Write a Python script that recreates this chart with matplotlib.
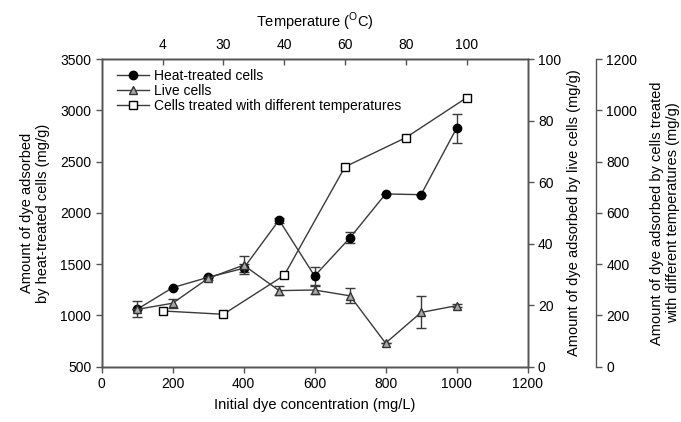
import numpy as np
import matplotlib.pyplot as plt

plt.rcParams['font.family'] = ['Liberation Sans', 'DejaVu Sans']
plt.rcParams['mathtext.fontset'] = 'custom'
plt.rcParams['mathtext.rm'] = 'Liberation Sans'

# data
conc = [100, 200, 300, 400, 500, 600, 700, 800, 900, 1000]
heat = [1059, 1270, 1371, 1459, 1930, 1384, 1758, 2185, 2178, 2826]
heat_err = [78, 0, 0, 40, 25, 85, 53, 0, 0, 141]
live = [18.6, 20.6, 28.7, 33.0, 24.7, 24.9, 23.0, 7.6, 17.6, 19.8]
live_err = [0, 1.4, 0.5, 3.0, 1.5, 1.4, 2.4, 0, 5.2, 0.5]
temp_labels = ['4', '30', '40', '60', '80', '100']
temp_ads = [217, 204, 356, 780, 894, 1050]

line_c = '#3a3a3a'
spine_c = '#555555'

fig = plt.figure(figsize=(6.81, 4.22), dpi=100)
ax = fig.add_axes([0.1493, 0.1315, 0.6253, 0.728])
ax_top = ax.twiny()
ax_live = ax.twinx()
ax_temp = ax_top.twinx()

temp_pos = np.arange(1, len(temp_labels) + 1)

# heat-treated cells
ax.errorbar(conc, heat, yerr=heat_err, fmt='none', ecolor=line_c, elinewidth=1, capsize=3.5)
h1, = ax.plot(conc, heat, '-o', color=line_c, lw=1, mfc='black', mec='black', ms=6)

# live cells
ax_live.errorbar(conc, live, yerr=live_err, fmt='none', ecolor=line_c, elinewidth=1, capsize=3.5)
h2, = ax_live.plot(conc, live, '-^', color=line_c, lw=1, mfc='#a8a8a8', mec='#333333', ms=6)

# temperature treated cells
h3, = ax_temp.plot(temp_pos, temp_ads, '-s', color=line_c, lw=1, mfc='white', mec='black', ms=5.5)

ax.set_xlim(0, 1200)
ax.set_ylim(500, 3500)
ax.set_xticks(range(0, 1201, 200))
ax.set_yticks(range(500, 3501, 500))
ax_top.set_xlim(0, 7)
ax_top.set_xticks(temp_pos)
ax_top.set_xticklabels(temp_labels)
ax_live.set_ylim(0, 100)
ax_live.set_yticks(range(0, 101, 20))
ax_temp.set_ylim(0, 1200)
ax_temp.set_yticks(range(0, 1201, 200))

ax_temp.spines['right'].set_position(('axes', 1.161))
for s in ['top', 'bottom', 'left']:
    ax_temp.spines[s].set_visible(False)

for a in [ax, ax_top, ax_live, ax_temp]:
    for s in a.spines.values():
        s.set_color(spine_c)
        s.set_linewidth(1)
    a.tick_params(labelsize=10, color=spine_c, direction='out', length=4, width=1)
ax_top.tick_params(axis='x', direction='in', pad=5)

ax.set_xlabel('Initial dye concentration (mg/L)', fontsize=10.5, labelpad=5)
ax.set_ylabel('Amount of dye adsorbed\nby heat-treated cells (mg/g)', fontsize=10.5, labelpad=7)
ax_live.set_ylabel('Amount of dye adsorbed by live cells (mg/g)', fontsize=10.5, labelpad=4)
ax_temp.set_ylabel('Amount of dye adsorbed by cells treated\nwith different temperatures (mg/g)',
                   fontsize=10.5, labelpad=9)
ax_top.set_xlabel(r'Temperature ($^{\mathrm{O}}$C)', fontsize=10.5, labelpad=8)

ax_temp.legend([h1, h2, h3], ['Heat-treated cells', 'Live cells', 'Cells treated with different temperatures'],
               loc='upper left', bbox_to_anchor=(0.035, 0.97), frameon=False, fontsize=10,
               handlelength=2.3, labelspacing=0.1, borderpad=0, handletextpad=0.4, borderaxespad=0)

fig.savefig('out.png', dpi=100)
